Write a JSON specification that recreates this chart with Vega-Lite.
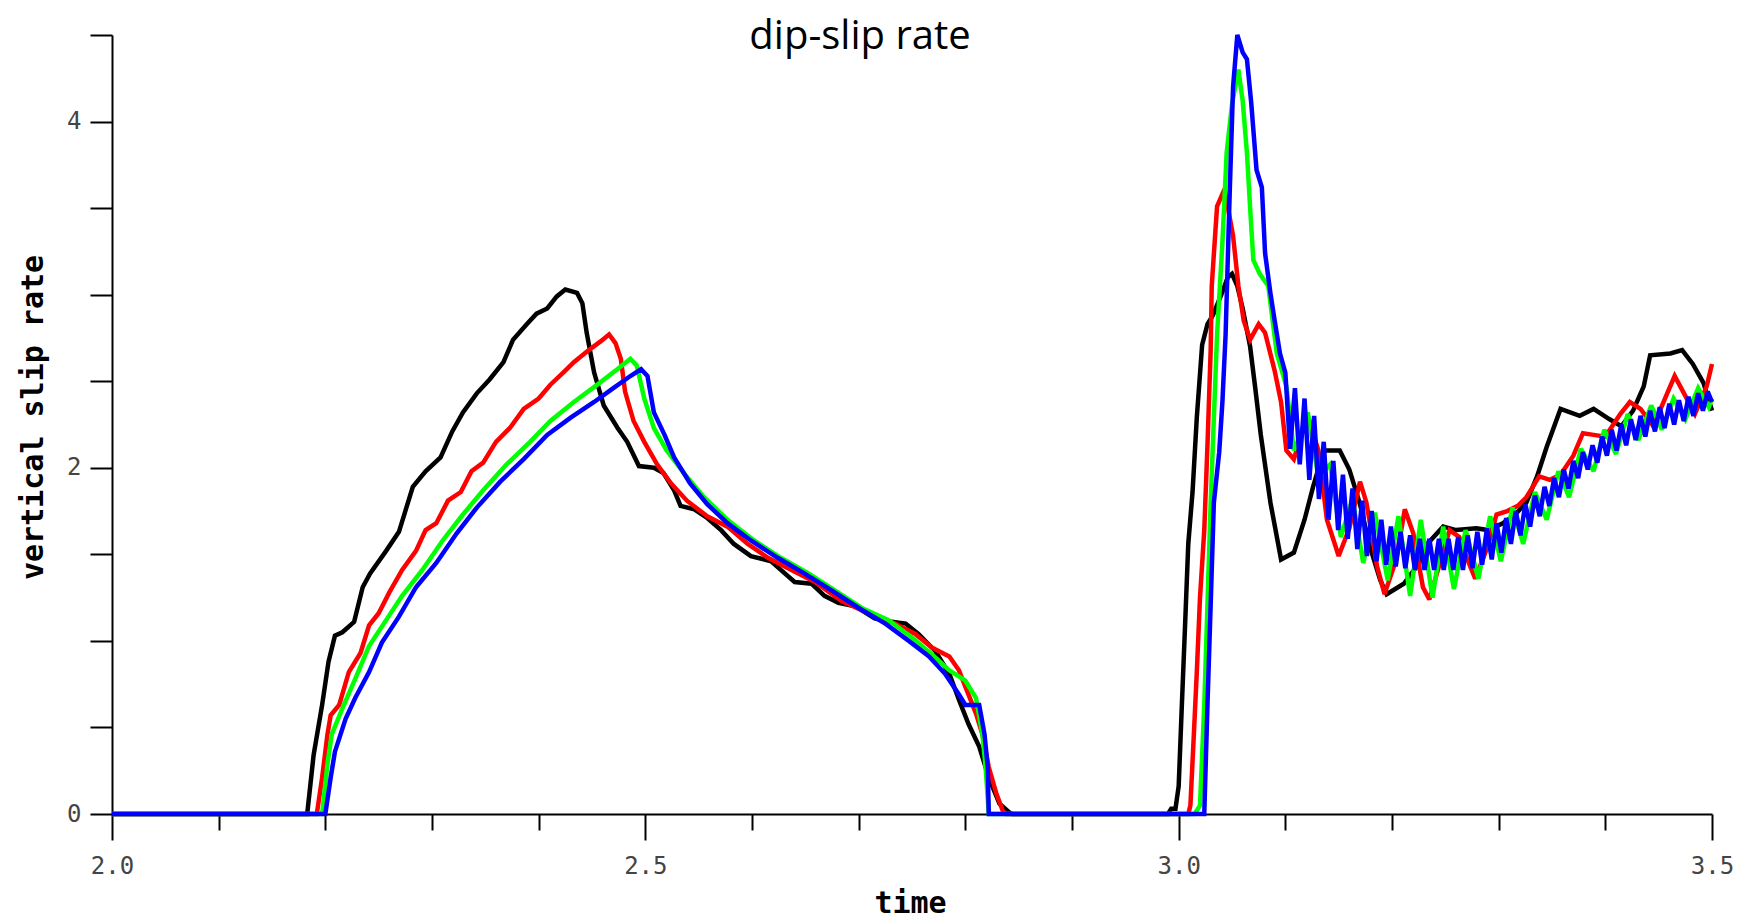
{
"$schema": "https://vega.github.io/schema/vega-lite/v6.json",
"width": 1600, "height": 779,
"autosize": {"type": "none"},
"padding": {"left": 112, "top": 35, "right": 32, "bottom": 104},
"background": "white",
"config": {"view": {"stroke": null}},
"title": {"text": "dip-slip rate", "font": "Open Sans", "fontSize": 40, "fontWeight": "normal", "color": "#000000", "anchor": "middle", "dx": -52, "dy": 34, "offset": 0},
"data": {"values": [
{"s":"a","t":2.0,"v":0},{"s":"a","t":2.183,"v":0},{"s":"a","t":2.189,"v":0.34},{"s":"a","t":2.197,"v":0.63},{"s":"a","t":2.203,"v":0.88},{"s":"a","t":2.209,"v":1.03},{"s":"a","t":2.216,"v":1.05},{"s":"a","t":2.227,"v":1.11},{"s":"a","t":2.235,"v":1.31},{"s":"a","t":2.242,"v":1.39},{"s":"a","t":2.257,"v":1.52},{"s":"a","t":2.269,"v":1.63},{"s":"a","t":2.275,"v":1.75},{"s":"a","t":2.282,"v":1.89},{"s":"a","t":2.294,"v":1.98},{"s":"a","t":2.308,"v":2.06},{"s":"a","t":2.319,"v":2.21},{"s":"a","t":2.329,"v":2.32},{"s":"a","t":2.342,"v":2.43},{"s":"a","t":2.354,"v":2.51},{"s":"a","t":2.367,"v":2.61},{"s":"a","t":2.376,"v":2.74},{"s":"a","t":2.389,"v":2.83},{"s":"a","t":2.398,"v":2.89},{"s":"a","t":2.408,"v":2.92},{"s":"a","t":2.417,"v":2.99},{"s":"a","t":2.425,"v":3.03},{"s":"a","t":2.436,"v":3.01},{"s":"a","t":2.441,"v":2.95},{"s":"a","t":2.445,"v":2.78},{"s":"a","t":2.452,"v":2.55},{"s":"a","t":2.461,"v":2.36},{"s":"a","t":2.474,"v":2.23},{"s":"a","t":2.483,"v":2.15},{"s":"a","t":2.494,"v":2.01},{"s":"a","t":2.508,"v":2.0},{"s":"a","t":2.517,"v":1.97},{"s":"a","t":2.527,"v":1.87},{"s":"a","t":2.533,"v":1.78},{"s":"a","t":2.546,"v":1.76},{"s":"a","t":2.558,"v":1.71},{"s":"a","t":2.571,"v":1.64},{"s":"a","t":2.583,"v":1.56},{"s":"a","t":2.599,"v":1.49},{"s":"a","t":2.618,"v":1.46},{"s":"a","t":2.627,"v":1.41},{"s":"a","t":2.64,"v":1.34},{"s":"a","t":2.656,"v":1.33},{"s":"a","t":2.668,"v":1.26},{"s":"a","t":2.681,"v":1.22},{"s":"a","t":2.697,"v":1.2},{"s":"a","t":2.715,"v":1.13},{"s":"a","t":2.731,"v":1.11},{"s":"a","t":2.744,"v":1.1},{"s":"a","t":2.756,"v":1.04},{"s":"a","t":2.772,"v":0.94},{"s":"a","t":2.785,"v":0.81},{"s":"a","t":2.794,"v":0.66},{"s":"a","t":2.803,"v":0.52},{"s":"a","t":2.813,"v":0.39},{"s":"a","t":2.822,"v":0.21},{"s":"a","t":2.832,"v":0.06},{"s":"a","t":2.841,"v":0.01},{"s":"a","t":2.844,"v":0},{"s":"a","t":2.99,"v":0},{"s":"a","t":2.993,"v":0.03},{"s":"a","t":2.997,"v":0.03},{"s":"a","t":3.0,"v":0.16},{"s":"a","t":3.003,"v":0.63},{"s":"a","t":3.006,"v":1.09},{"s":"a","t":3.009,"v":1.56},{"s":"a","t":3.013,"v":1.86},{"s":"a","t":3.017,"v":2.29},{"s":"a","t":3.022,"v":2.71},{"s":"a","t":3.027,"v":2.83},{"s":"a","t":3.032,"v":2.88},{"s":"a","t":3.04,"v":3.0},{"s":"a","t":3.046,"v":3.1},{"s":"a","t":3.05,"v":3.12},{"s":"a","t":3.055,"v":3.05},{"s":"a","t":3.06,"v":2.92},{"s":"a","t":3.067,"v":2.7},{"s":"a","t":3.072,"v":2.45},{"s":"a","t":3.077,"v":2.19},{"s":"a","t":3.086,"v":1.8},{"s":"a","t":3.096,"v":1.47},{"s":"a","t":3.108,"v":1.51},{"s":"a","t":3.118,"v":1.7},{"s":"a","t":3.126,"v":1.89},{"s":"a","t":3.136,"v":2.1},{"s":"a","t":3.151,"v":2.1},{"s":"a","t":3.16,"v":1.99},{"s":"a","t":3.17,"v":1.79},{"s":"a","t":3.179,"v":1.55},{"s":"a","t":3.189,"v":1.35},{"s":"a","t":3.195,"v":1.27},{"s":"a","t":3.211,"v":1.33},{"s":"a","t":3.222,"v":1.42},{"s":"a","t":3.233,"v":1.56},{"s":"a","t":3.248,"v":1.66},{"s":"a","t":3.26,"v":1.64},{"s":"a","t":3.279,"v":1.65},{"s":"a","t":3.29,"v":1.64},{"s":"a","t":3.304,"v":1.68},{"s":"a","t":3.314,"v":1.72},{"s":"a","t":3.326,"v":1.8},{"s":"a","t":3.336,"v":1.95},{"s":"a","t":3.345,"v":2.12},{"s":"a","t":3.358,"v":2.34},{"s":"a","t":3.376,"v":2.3},{"s":"a","t":3.389,"v":2.34},{"s":"a","t":3.404,"v":2.28},{"s":"a","t":3.415,"v":2.24},{"s":"a","t":3.426,"v":2.33},{"s":"a","t":3.436,"v":2.47},{"s":"a","t":3.442,"v":2.65},{"s":"a","t":3.461,"v":2.66},{"s":"a","t":3.472,"v":2.68},{"s":"a","t":3.482,"v":2.6},{"s":"a","t":3.492,"v":2.49},{"s":"a","t":3.5,"v":2.33},
{"s":"b","t":2.0,"v":0},{"s":"b","t":2.192,"v":0},{"s":"b","t":2.197,"v":0.21},{"s":"b","t":2.202,"v":0.46},{"s":"b","t":2.205,"v":0.57},{"s":"b","t":2.213,"v":0.63},{"s":"b","t":2.222,"v":0.82},{"s":"b","t":2.233,"v":0.93},{"s":"b","t":2.241,"v":1.09},{"s":"b","t":2.25,"v":1.16},{"s":"b","t":2.26,"v":1.28},{"s":"b","t":2.272,"v":1.41},{"s":"b","t":2.285,"v":1.52},{"s":"b","t":2.294,"v":1.64},{"s":"b","t":2.304,"v":1.68},{"s":"b","t":2.315,"v":1.81},{"s":"b","t":2.327,"v":1.86},{"s":"b","t":2.337,"v":1.98},{"s":"b","t":2.348,"v":2.03},{"s":"b","t":2.36,"v":2.15},{"s":"b","t":2.373,"v":2.23},{"s":"b","t":2.386,"v":2.34},{"s":"b","t":2.4,"v":2.4},{"s":"b","t":2.411,"v":2.48},{"s":"b","t":2.423,"v":2.55},{"s":"b","t":2.433,"v":2.61},{"s":"b","t":2.445,"v":2.67},{"s":"b","t":2.458,"v":2.73},{"s":"b","t":2.466,"v":2.77},{"s":"b","t":2.472,"v":2.72},{"s":"b","t":2.477,"v":2.63},{"s":"b","t":2.481,"v":2.44},{"s":"b","t":2.489,"v":2.27},{"s":"b","t":2.499,"v":2.15},{"s":"b","t":2.511,"v":2.02},{"s":"b","t":2.524,"v":1.91},{"s":"b","t":2.539,"v":1.81},{"s":"b","t":2.558,"v":1.72},{"s":"b","t":2.577,"v":1.66},{"s":"b","t":2.596,"v":1.56},{"s":"b","t":2.615,"v":1.48},{"s":"b","t":2.637,"v":1.41},{"s":"b","t":2.659,"v":1.34},{"s":"b","t":2.684,"v":1.23},{"s":"b","t":2.709,"v":1.16},{"s":"b","t":2.734,"v":1.1},{"s":"b","t":2.753,"v":1.04},{"s":"b","t":2.769,"v":0.96},{"s":"b","t":2.785,"v":0.91},{"s":"b","t":2.794,"v":0.83},{"s":"b","t":2.803,"v":0.69},{"s":"b","t":2.81,"v":0.58},{"s":"b","t":2.816,"v":0.46},{"s":"b","t":2.822,"v":0.27},{"s":"b","t":2.829,"v":0.12},{"s":"b","t":2.835,"v":0.02},{"s":"b","t":2.838,"v":0},{"s":"b","t":3.009,"v":0},{"s":"b","t":3.011,"v":0.05},{"s":"b","t":3.014,"v":0.43},{"s":"b","t":3.017,"v":0.82},{"s":"b","t":3.02,"v":1.25},{"s":"b","t":3.024,"v":1.64},{"s":"b","t":3.027,"v":2.13},{"s":"b","t":3.03,"v":2.68},{"s":"b","t":3.031,"v":3.05},{"s":"b","t":3.036,"v":3.51},{"s":"b","t":3.043,"v":3.61},{"s":"b","t":3.051,"v":3.34},{"s":"b","t":3.056,"v":3.05},{"s":"b","t":3.061,"v":2.85},{"s":"b","t":3.067,"v":2.74},{"s":"b","t":3.075,"v":2.83},{"s":"b","t":3.081,"v":2.78},{"s":"b","t":3.09,"v":2.56},{"s":"b","t":3.096,"v":2.38},{"s":"b","t":3.101,"v":2.1},{"s":"b","t":3.108,"v":2.05},{"s":"b","t":3.115,"v":2.19},{"s":"b","t":3.122,"v":2.28},{"s":"b","t":3.131,"v":2.1},{"s":"b","t":3.139,"v":1.7},{"s":"b","t":3.15,"v":1.49},{"s":"b","t":3.16,"v":1.65},{"s":"b","t":3.17,"v":1.92},{"s":"b","t":3.176,"v":1.8},{"s":"b","t":3.186,"v":1.43},{"s":"b","t":3.193,"v":1.27},{"s":"b","t":3.204,"v":1.47},{"s":"b","t":3.212,"v":1.76},{"s":"b","t":3.22,"v":1.62},{"s":"b","t":3.229,"v":1.31},{"s":"b","t":3.235,"v":1.24},{"s":"b","t":3.245,"v":1.45},{"s":"b","t":3.254,"v":1.64},{"s":"b","t":3.263,"v":1.6},{"s":"b","t":3.27,"v":1.48},{"s":"b","t":3.278,"v":1.36},{"s":"b","t":3.29,"v":1.55},{"s":"b","t":3.298,"v":1.73},{"s":"b","t":3.308,"v":1.75},{"s":"b","t":3.318,"v":1.78},{"s":"b","t":3.326,"v":1.83},{"s":"b","t":3.338,"v":1.95},{"s":"b","t":3.348,"v":1.93},{"s":"b","t":3.358,"v":1.96},{"s":"b","t":3.37,"v":2.07},{"s":"b","t":3.379,"v":2.2},{"s":"b","t":3.389,"v":2.19},{"s":"b","t":3.4,"v":2.18},{"s":"b","t":3.414,"v":2.31},{"s":"b","t":3.423,"v":2.38},{"s":"b","t":3.433,"v":2.34},{"s":"b","t":3.445,"v":2.24},{"s":"b","t":3.458,"v":2.43},{"s":"b","t":3.465,"v":2.53},{"s":"b","t":3.472,"v":2.45},{"s":"b","t":3.484,"v":2.31},{"s":"b","t":3.495,"v":2.47},{"s":"b","t":3.5,"v":2.6},
{"s":"c","t":2.0,"v":0},{"s":"c","t":2.197,"v":0},{"s":"c","t":2.202,"v":0.29},{"s":"c","t":2.206,"v":0.46},{"s":"c","t":2.216,"v":0.61},{"s":"c","t":2.228,"v":0.78},{"s":"c","t":2.241,"v":0.97},{"s":"c","t":2.257,"v":1.12},{"s":"c","t":2.272,"v":1.26},{"s":"c","t":2.291,"v":1.41},{"s":"c","t":2.31,"v":1.58},{"s":"c","t":2.329,"v":1.73},{"s":"c","t":2.348,"v":1.87},{"s":"c","t":2.37,"v":2.02},{"s":"c","t":2.392,"v":2.15},{"s":"c","t":2.411,"v":2.27},{"s":"c","t":2.433,"v":2.38},{"s":"c","t":2.455,"v":2.48},{"s":"c","t":2.474,"v":2.57},{"s":"c","t":2.486,"v":2.63},{"s":"c","t":2.492,"v":2.59},{"s":"c","t":2.499,"v":2.4},{"s":"c","t":2.508,"v":2.23},{"s":"c","t":2.52,"v":2.1},{"s":"c","t":2.536,"v":1.97},{"s":"c","t":2.555,"v":1.83},{"s":"c","t":2.577,"v":1.7},{"s":"c","t":2.602,"v":1.58},{"s":"c","t":2.627,"v":1.48},{"s":"c","t":2.653,"v":1.39},{"s":"c","t":2.678,"v":1.29},{"s":"c","t":2.703,"v":1.19},{"s":"c","t":2.728,"v":1.12},{"s":"c","t":2.75,"v":1.02},{"s":"c","t":2.769,"v":0.92},{"s":"c","t":2.785,"v":0.83},{"s":"c","t":2.8,"v":0.77},{"s":"c","t":2.81,"v":0.67},{"s":"c","t":2.816,"v":0.46},{"s":"c","t":2.819,"v":0.27},{"s":"c","t":2.822,"v":0},{"s":"c","t":3.015,"v":0},{"s":"c","t":3.02,"v":0.05},{"s":"c","t":3.024,"v":0.63},{"s":"c","t":3.027,"v":1.21},{"s":"c","t":3.03,"v":1.8},{"s":"c","t":3.033,"v":2.29},{"s":"c","t":3.036,"v":2.77},{"s":"c","t":3.041,"v":3.3},{"s":"c","t":3.045,"v":3.82},{"s":"c","t":3.05,"v":4.1},{"s":"c","t":3.056,"v":4.3},{"s":"c","t":3.06,"v":4.12},{"s":"c","t":3.064,"v":3.82},{"s":"c","t":3.067,"v":3.5},{"s":"c","t":3.07,"v":3.2},{"s":"c","t":3.076,"v":3.12},{"s":"c","t":3.084,"v":3.05},{"s":"c","t":3.092,"v":2.66},{"s":"c","t":3.101,"v":2.47},{"s":"c","t":3.108,"v":2.1},{"s":"c","t":3.115,"v":2.2},{"s":"c","t":3.121,"v":2.32},{"s":"c","t":3.131,"v":1.95},{"s":"c","t":3.142,"v":2.02},{"s":"c","t":3.152,"v":1.6},{"s":"c","t":3.163,"v":1.82},{"s":"c","t":3.173,"v":1.45},{"s":"c","t":3.184,"v":1.74},{"s":"c","t":3.196,"v":1.35},{"s":"c","t":3.206,"v":1.72},{"s":"c","t":3.217,"v":1.26},{"s":"c","t":3.227,"v":1.7},{"s":"c","t":3.238,"v":1.25},{"s":"c","t":3.248,"v":1.66},{"s":"c","t":3.258,"v":1.3},{"s":"c","t":3.269,"v":1.64},{"s":"c","t":3.281,"v":1.36},{"s":"c","t":3.292,"v":1.72},{"s":"c","t":3.302,"v":1.46},{"s":"c","t":3.313,"v":1.77},{"s":"c","t":3.323,"v":1.56},{"s":"c","t":3.334,"v":1.86},{"s":"c","t":3.345,"v":1.7},{"s":"c","t":3.356,"v":1.98},{"s":"c","t":3.366,"v":1.83},{"s":"c","t":3.377,"v":2.11},{"s":"c","t":3.389,"v":1.98},{"s":"c","t":3.399,"v":2.22},{"s":"c","t":3.41,"v":2.08},{"s":"c","t":3.421,"v":2.31},{"s":"c","t":3.431,"v":2.16},{"s":"c","t":3.443,"v":2.36},{"s":"c","t":3.453,"v":2.22},{"s":"c","t":3.464,"v":2.4},{"s":"c","t":3.475,"v":2.28},{"s":"c","t":3.487,"v":2.46},{"s":"c","t":3.497,"v":2.35},{"s":"c","t":3.5,"v":2.4},
{"s":"d","t":2.0,"v":0},{"s":"d","t":2.2,"v":0},{"s":"d","t":2.205,"v":0.21},{"s":"d","t":2.209,"v":0.36},{"s":"d","t":2.219,"v":0.55},{"s":"d","t":2.228,"v":0.67},{"s":"d","t":2.241,"v":0.82},{"s":"d","t":2.253,"v":0.99},{"s":"d","t":2.269,"v":1.14},{"s":"d","t":2.285,"v":1.31},{"s":"d","t":2.304,"v":1.45},{"s":"d","t":2.323,"v":1.62},{"s":"d","t":2.342,"v":1.77},{"s":"d","t":2.364,"v":1.92},{"s":"d","t":2.386,"v":2.05},{"s":"d","t":2.408,"v":2.19},{"s":"d","t":2.43,"v":2.29},{"s":"d","t":2.452,"v":2.38},{"s":"d","t":2.47,"v":2.46},{"s":"d","t":2.486,"v":2.53},{"s":"d","t":2.496,"v":2.57},{"s":"d","t":2.502,"v":2.53},{"s":"d","t":2.508,"v":2.32},{"s":"d","t":2.518,"v":2.19},{"s":"d","t":2.527,"v":2.06},{"s":"d","t":2.542,"v":1.91},{"s":"d","t":2.558,"v":1.79},{"s":"d","t":2.577,"v":1.68},{"s":"d","t":2.599,"v":1.58},{"s":"d","t":2.624,"v":1.48},{"s":"d","t":2.649,"v":1.39},{"s":"d","t":2.675,"v":1.29},{"s":"d","t":2.7,"v":1.19},{"s":"d","t":2.725,"v":1.1},{"s":"d","t":2.747,"v":1.0},{"s":"d","t":2.766,"v":0.91},{"s":"d","t":2.781,"v":0.81},{"s":"d","t":2.794,"v":0.69},{"s":"d","t":2.8,"v":0.63},{"s":"d","t":2.813,"v":0.63},{"s":"d","t":2.818,"v":0.46},{"s":"d","t":2.821,"v":0.27},{"s":"d","t":2.822,"v":0},{"s":"d","t":3.024,"v":0},{"s":"d","t":3.027,"v":0.63},{"s":"d","t":3.03,"v":1.21},{"s":"d","t":3.033,"v":1.8},{"s":"d","t":3.038,"v":2.09},{"s":"d","t":3.041,"v":2.38},{"s":"d","t":3.044,"v":2.77},{"s":"d","t":3.048,"v":3.62},{"s":"d","t":3.051,"v":4.2},{"s":"d","t":3.055,"v":4.5},{"s":"d","t":3.06,"v":4.4},{"s":"d","t":3.064,"v":4.36},{"s":"d","t":3.068,"v":4.11},{"s":"d","t":3.073,"v":3.72},{"s":"d","t":3.078,"v":3.62},{"s":"d","t":3.081,"v":3.24},{"s":"d","t":3.086,"v":3.01},{"s":"d","t":3.09,"v":2.85},{"s":"d","t":3.095,"v":2.66},{"s":"d","t":3.1,"v":2.55},{"s":"d","t":3.1045,"v":2.11},{"s":"d","t":3.109,"v":2.46},{"s":"d","t":3.1135,"v":2.02},{"s":"d","t":3.118,"v":2.4},{"s":"d","t":3.1225,"v":1.93},{"s":"d","t":3.127,"v":2.3},{"s":"d","t":3.1315,"v":1.82},{"s":"d","t":3.136,"v":2.15},{"s":"d","t":3.1405,"v":1.7},{"s":"d","t":3.145,"v":2.04},{"s":"d","t":3.1495,"v":1.64},{"s":"d","t":3.154,"v":1.96},{"s":"d","t":3.1585,"v":1.59},{"s":"d","t":3.163,"v":1.88},{"s":"d","t":3.1675,"v":1.53},{"s":"d","t":3.172,"v":1.81},{"s":"d","t":3.1765,"v":1.49},{"s":"d","t":3.181,"v":1.75},{"s":"d","t":3.1855,"v":1.46},{"s":"d","t":3.19,"v":1.7},{"s":"d","t":3.1945,"v":1.44},{"s":"d","t":3.199,"v":1.66},{"s":"d","t":3.2035,"v":1.43},{"s":"d","t":3.208,"v":1.63},{"s":"d","t":3.2125,"v":1.42},{"s":"d","t":3.217,"v":1.61},{"s":"d","t":3.2215,"v":1.41},{"s":"d","t":3.226,"v":1.59},{"s":"d","t":3.2305,"v":1.41},{"s":"d","t":3.235,"v":1.59},{"s":"d","t":3.2395,"v":1.41},{"s":"d","t":3.244,"v":1.59},{"s":"d","t":3.2485,"v":1.41},{"s":"d","t":3.253,"v":1.59},{"s":"d","t":3.2575,"v":1.41},{"s":"d","t":3.262,"v":1.6},{"s":"d","t":3.2665,"v":1.41},{"s":"d","t":3.271,"v":1.61},{"s":"d","t":3.2755,"v":1.42},{"s":"d","t":3.28,"v":1.63},{"s":"d","t":3.2845,"v":1.44},{"s":"d","t":3.289,"v":1.65},{"s":"d","t":3.2935,"v":1.47},{"s":"d","t":3.298,"v":1.68},{"s":"d","t":3.3025,"v":1.51},{"s":"d","t":3.307,"v":1.71},{"s":"d","t":3.3115,"v":1.56},{"s":"d","t":3.316,"v":1.75},{"s":"d","t":3.3205,"v":1.61},{"s":"d","t":3.325,"v":1.79},{"s":"d","t":3.3295,"v":1.66},{"s":"d","t":3.334,"v":1.84},{"s":"d","t":3.3385,"v":1.72},{"s":"d","t":3.343,"v":1.89},{"s":"d","t":3.3475,"v":1.78},{"s":"d","t":3.352,"v":1.94},{"s":"d","t":3.3565,"v":1.83},{"s":"d","t":3.361,"v":1.99},{"s":"d","t":3.3655,"v":1.88},{"s":"d","t":3.37,"v":2.04},{"s":"d","t":3.3745,"v":1.94},{"s":"d","t":3.379,"v":2.09},{"s":"d","t":3.3835,"v":1.99},{"s":"d","t":3.388,"v":2.13},{"s":"d","t":3.3925,"v":2.03},{"s":"d","t":3.397,"v":2.18},{"s":"d","t":3.4015,"v":2.07},{"s":"d","t":3.406,"v":2.22},{"s":"d","t":3.4105,"v":2.1},{"s":"d","t":3.415,"v":2.25},{"s":"d","t":3.4195,"v":2.13},{"s":"d","t":3.424,"v":2.28},{"s":"d","t":3.4285,"v":2.16},{"s":"d","t":3.433,"v":2.3},{"s":"d","t":3.4375,"v":2.18},{"s":"d","t":3.442,"v":2.33},{"s":"d","t":3.4465,"v":2.21},{"s":"d","t":3.451,"v":2.35},{"s":"d","t":3.4555,"v":2.23},{"s":"d","t":3.46,"v":2.37},{"s":"d","t":3.4645,"v":2.25},{"s":"d","t":3.469,"v":2.39},{"s":"d","t":3.4735,"v":2.27},{"s":"d","t":3.478,"v":2.41},{"s":"d","t":3.4825,"v":2.3},{"s":"d","t":3.487,"v":2.43},{"s":"d","t":3.4915,"v":2.33},{"s":"d","t":3.496,"v":2.44},{"s":"d","t":3.5,"v":2.38}
]},
"mark": {"type": "line", "strokeWidth": 4.5, "strokeJoin": "miter", "strokeMiterLimit": 2.5},
"encoding": {
 "x": {"field": "t", "type": "quantitative",
  "scale": {"domain": [2, 3.5], "nice": false, "zero": false},
  "axis": {"title": "time", "grid": false,
   "values": [2.0,2.1,2.2,2.3,2.4,2.5,2.6,2.7,2.8,2.9,3.0,3.1,3.2,3.3,3.4,3.5],
   "labelExpr": "abs(datum.value*2 - round(datum.value*2)) < 0.01 ? format(datum.value, '.1f') : ''",
   "labelFont": "DejaVu Sans Mono", "labelFontSize": 24, "labelColor": "#444444",
   "labelFlush": false, "labelOverlap": false, "labelPadding": 14,
   "tickSize": {"condition": {"test": "abs(datum.value*2 - round(datum.value*2)) < 0.01", "value": 26}, "value": 16},
   "tickColor": "#000000", "tickWidth": 2, "domainColor": "#000000", "domainWidth": 2,
   "titleFont": "DejaVu Sans Mono", "titleFontSize": 30, "titleFontWeight": "bold", "titleColor": "#000000",
   "titleX": 798, "titleY": 89, "titleAlign": "center", "titleBaseline": "middle"}},
 "y": {"field": "v", "type": "quantitative",
  "scale": {"domain": [0, 4.5], "nice": false, "zero": true},
  "axis": {"title": "vertical slip rate", "grid": false,
   "values": [0,0.5,1,1.5,2,2.5,3,3.5,4,4.5],
   "labelExpr": "datum.value % 2 == 0 ? format(datum.value, 'd') : ''",
   "labelFont": "DejaVu Sans Mono", "labelFontSize": 24, "labelColor": "#444444",
   "labelFlush": false, "labelOverlap": false, "labelPadding": 9,
   "tickSize": 22, "tickColor": "#000000", "tickWidth": 2, "domainColor": "#000000", "domainWidth": 2,
   "titleFont": "DejaVu Sans Mono", "titleFontSize": 30, "titleFontWeight": "bold", "titleColor": "#000000",
   "titleX": -79, "titleY": 382, "titleAlign": "center", "titleBaseline": "middle", "titleAngle": -90}},
 "color": {"field": "s", "type": "nominal",
  "scale": {"domain": ["a","b","c","d"], "range": ["#000000","#ff0000","#00ff00","#0000ff"]},
  "legend": null}
}
}
